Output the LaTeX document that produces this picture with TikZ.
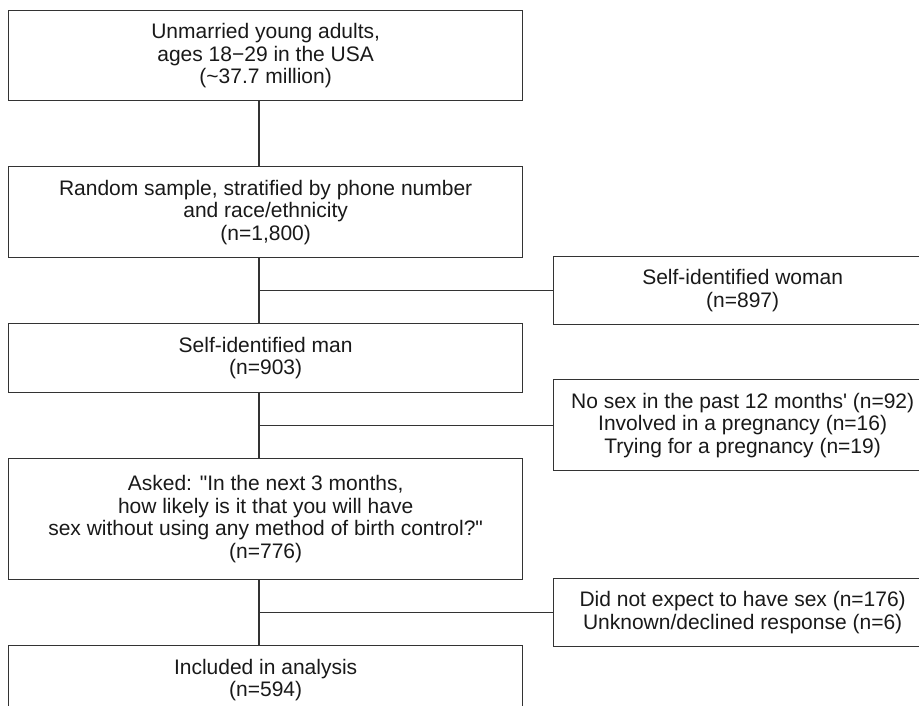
\documentclass[tikz,border=0pt]{standalone}
\usepackage{fontspec}
\newfontfamily\arialfont{Liberation Sans}
\usetikzlibrary{calc}

\begin{document}
\begin{tikzpicture}[x=1pt,y=-1pt,
  flowbox/.style={draw=black!80,line width=1.3pt,anchor=north west,inner sep=0pt,
    align=center,text=black!90,font=\arialfont\fontsize{21}{22.5}\selectfont},
  mainbox/.style={flowbox,minimum width=514pt},
  sidebox/.style={flowbox,minimum width=378pt},
  link/.style={draw=black!80,line width=1.3pt}]
\useasboundingbox (0,0) rectangle (919,705);
\clip (0,0) rectangle (919,705);

\node[mainbox,minimum height=90pt] (pop) at (8,10)
  {Unmarried young adults,\\ages 18−29 in the USA\\(\textasciitilde 37.7 million)};
\node[mainbox,minimum height=91pt] (sample) at (8,166)
  {Random sample, stratified by phone number\\and race/ethnicity\\(n=1,800)};
\node[mainbox,minimum height=69pt] (man) at (8,323)
  {Self-identified man\\(n=903)};
\node[mainbox,minimum height=121pt] (asked) at (8,458)
  {Asked: "In the next 3 months,\\how likely is it that you will have\\sex without using any method of birth control?"\\(n=776)};
\node[mainbox,minimum height=69pt] (incl) at (8,645)
  {Included in analysis\\(n=594)};

\node[sidebox,minimum height=68pt] (woman) at (553,256)
  {Self-identified woman\\(n=897)};
\node[sidebox,minimum height=91pt] (excl) at (553,379)
  {No sex in the past 12 months' (n=92)\\Involved in a pregnancy (n=16)\\Trying for a pregnancy (n=19)};
\node[sidebox,minimum height=68pt] (nosex) at (553,578)
  {Did not expect to have sex (n=176)\\Unknown/declined response (n=6)};

\coordinate (trunk) at (259,0);

\draw[link] (pop.south -| trunk) -- (sample.north -| trunk);
\draw[link] (sample.south -| trunk) -- (man.north -| trunk);
\draw[link] (man.south -| trunk) -- (asked.north -| trunk);
\draw[link] (asked.south -| trunk) -- (incl.north -| trunk);

\draw[link] (woman.west -| trunk) -- (woman.west);
\draw[link] (excl.west -| trunk) -- (excl.west);
\draw[link] (nosex.west -| trunk) -- (nosex.west);

\end{tikzpicture}
\end{document}
